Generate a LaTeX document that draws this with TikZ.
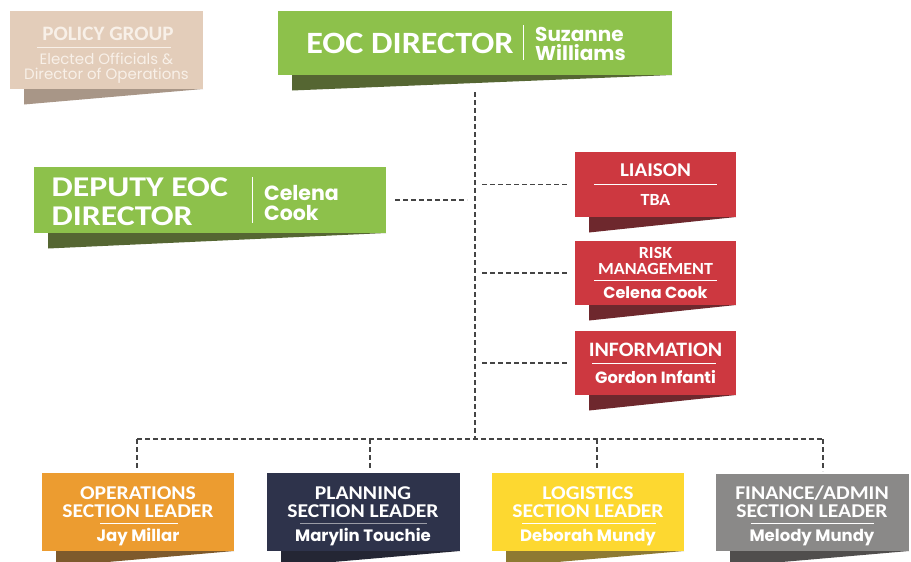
\documentclass[tikz,border=0pt]{standalone}
\usepackage{fontspec}
\setmainfont{Carlito}
\newfontfamily\namefont{Poppins}
\usetikzlibrary{calc}
\definecolor{grn}{HTML}{8DC14B}
\definecolor{grnsh}{HTML}{556632}
\definecolor{pol}{HTML}{E3CDBA}
\definecolor{polsh}{HTML}{A89687}
\definecolor{poltxt}{HTML}{F8F0E8}
\definecolor{red1}{HTML}{CD3840}
\definecolor{redsh}{HTML}{6E282D}
\definecolor{org}{HTML}{EC9C30}
\definecolor{orgsh}{HTML}{7E5A2C}
\definecolor{navy}{HTML}{2E334B}
\definecolor{navysh}{HTML}{242634}
\definecolor{yel}{HTML}{FDD830}
\definecolor{yelsh}{HTML}{8E7A32}
\definecolor{gry}{HTML}{8A8988}
\definecolor{grysh}{HTML}{504E4D}
\definecolor{dashcol}{HTML}{444444}
\definecolor{navyrule}{HTML}{9A9CA6}
\newcommand\fs[1]{\fontsize{#1}{#1}\selectfont}
\newcommand\sx[2]{\scalebox{#1}[1]{#2}}
\newcommand\orgbox[7]{%
  \node[box=#6, minimum width=#4pt, minimum height=#5pt] (#1) at (#2,#3) {};
  \fill[#7] ($(#1.south west)+(14,0)$) -- (#1.south east) -- ($(#1.south west)+(14,15.5)$) -- cycle;}
\begin{document}
\begin{tikzpicture}[x=1pt,y=-1pt,
  box/.style={fill=#1, draw=none, inner sep=0pt, outer sep=0pt},
  conn/.style={draw=dashcol, line width=1.3pt, dash pattern=on 5pt off 3pt},
  ttl/.style={text=white, anchor=base, inner sep=0pt, text height=0.66em, text depth=0.12em},
  rulew/.style={draw=white, line width=0.8pt},
  sep/.style={draw=white, line width=1pt},
  sect/.style={ttl, font=\fs{19.5}\bfseries},
  leader/.style={ttl, font=\namefont\fs{16.5}\bfseries}]
\clip (0,0) rectangle (911,562);
\fill[white] (0,0) rectangle (911,562);

% boxes
\orgbox{policy}{106.5}{50}{193}{78}{pol}{polsh}
\orgbox{eoc}{475}{43}{394}{64}{grn}{grnsh}
\orgbox{deputy}{210}{200}{352}{66}{grn}{grnsh}
\orgbox{liaison}{655.5}{184.5}{161}{65}{red1}{redsh}
\orgbox{risk}{655.5}{273}{161}{64}{red1}{redsh}
\orgbox{info}{655.5}{363}{161}{64}{red1}{redsh}
\orgbox{ops}{138}{512}{192}{78}{org}{orgsh}
\orgbox{plan}{363.5}{512}{193}{78}{navy}{navysh}
\orgbox{log}{588}{512}{192}{78}{yel}{yelsh}
\orgbox{fin}{812.5}{512.5}{193}{77}{gry}{grysh}

% connectors
\coordinate (jn) at (475,439);
\coordinate (b1) at (137,439);
\coordinate (b2) at (370,439);
\coordinate (b3) at (597,439);
\coordinate (b4) at (823,439);
\draw[conn] ([yshift=-17pt]eoc.south) -- (jn);
\draw[conn] (b1) -- (b4);
\draw[conn, shorten >=3pt] (b1) -- (b1 |- ops.north);
\draw[conn, shorten >=3pt] (b2) -- (b2 |- plan.north);
\draw[conn, shorten >=3pt] (b3) -- (b3 |- log.north);
\draw[conn, shorten >=3pt] (b4) -- (b4 |- fin.north);
\draw[conn, shorten <=9pt, shorten >=8pt] (deputy.east) -- (deputy.east -| jn);
\draw[conn, shorten <=7pt, shorten >=7pt] (liaison.west -| jn) -- (liaison.west);
\draw[conn, shorten <=7pt, shorten >=7pt] (risk.west -| jn) -- (risk.west);
\draw[conn, shorten <=7pt, shorten >=7pt] (info.west -| jn) -- (info.west);

% policy text
\node[ttl, font=\fs{20.5}\bfseries, text=poltxt] (polt) at (108,40) {\sx{1.03}{POLICY GROUP}};
\draw[draw=poltxt, line width=0.8pt] (37,47.7) -- (171,47.7);
\node[ttl, font=\namefont\fs{15}, text=poltxt] (pol1) at (106.5,64.3) {Elected Officials \&};
\node[ttl, font=\namefont\fs{15}, text=poltxt] (pol2) at (106.5,79.5) {Director of Operations};

% EOC director
\node[ttl, font=\fs{31}\bfseries] (eoct) at (410,53.3) {\sx{1.1}{EOC DIRECTOR}};
\draw[sep] (523,25) -- (523,60);
\node[ttl, anchor=base west, font=\namefont\fs{20}\bfseries] (eocn1) at (535,41.7) {Suzanne};
\node[ttl, anchor=base west, font=\namefont\fs{20}\bfseries] (eocn2) at (535,60.7) {Williams};

% deputy
\node[ttl, anchor=base west, font=\fs{28.6}\bfseries] (dep1) at (51.5,196.7) {\sx{1.18}{DEPUTY EOC}};
\node[ttl, anchor=base west, font=\fs{28.6}\bfseries] (dep2) at (51.5,225) {\sx{1.18}{DIRECTOR}};
\draw[sep] (252,177) -- (252,223);
\node[ttl, anchor=base west, font=\namefont\fs{20.5}\bfseries] (depn1) at (264,200) {Celena};
\node[ttl, anchor=base west, font=\namefont\fs{20.5}\bfseries] (depn2) at (264,220) {Cook};

% red boxes
\node[ttl, font=\fs{19.5}\bfseries] (lt) at (655.5,176) {\sx{1.08}{LIAISON}};
\draw[rulew] (594,184) -- (717,184);
\node[ttl, font=\fs{17}\bfseries] (ln) at (655.5,205.7) {\sx{1.06}{TBA}};

\node[ttl, font=\fs{17}\bfseries] (rt1) at (655.5,258.3) {\sx{1.06}{RISK}};
\node[ttl, font=\fs{17}\bfseries] (rt2) at (655.5,274.3) {\sx{1.06}{MANAGEMENT}};
\draw[rulew] (594,280) -- (717,280);
\node[ttl, font=\namefont\fs{16}\bfseries] (rn) at (655.5,298.3) {Celena Cook};

\node[ttl, font=\fs{20.5}\bfseries] (it) at (655.5,356.7) {\sx{1.065}{INFORMATION}};
\draw[rulew] (592,363.3) -- (716,363.3);
\node[ttl, font=\namefont\fs{16.3}\bfseries] (in) at (655.5,383.3) {Gordon Infanti};

% bottom
\node[sect] (ot1) at (138,499) {\sx{1.11}{OPERATIONS}};
\node[sect] (ot2) at (138,517.3) {\sx{1.11}{SECTION LEADER}};
\draw[rulew] (100,523.3) -- (178,523.3);
\node[leader] (on) at (138,541) {Jay Millar};

\node[sect] (pt1) at (363,499) {\sx{1.11}{PLANNING}};
\node[sect] (pt2) at (363,517.3) {\sx{1.11}{SECTION LEADER}};
\draw[draw=navyrule, line width=0.8pt] (300,523.3) -- (427,523.3);
\node[leader] (pn) at (363,541) {Marylin Touchie};

\node[sect] (gt1) at (588,499) {\sx{1.11}{LOGISTICS}};
\node[sect] (gt2) at (588,517.3) {\sx{1.11}{SECTION LEADER}};
\draw[rulew] (522,523.3) -- (656,523.3);
\node[leader] (gn) at (588,541) {Deborah Mundy};

\node[sect] (ft1) at (812,499) {\sx{1.11}{FINANCE/ADMIN}};
\node[sect] (ft2) at (812,517.3) {\sx{1.11}{SECTION LEADER}};
\draw[rulew] (751,523.3) -- (874,523.3);
\node[leader] (fn) at (812,541) {Melody Mundy};
\end{tikzpicture}
\end{document}
